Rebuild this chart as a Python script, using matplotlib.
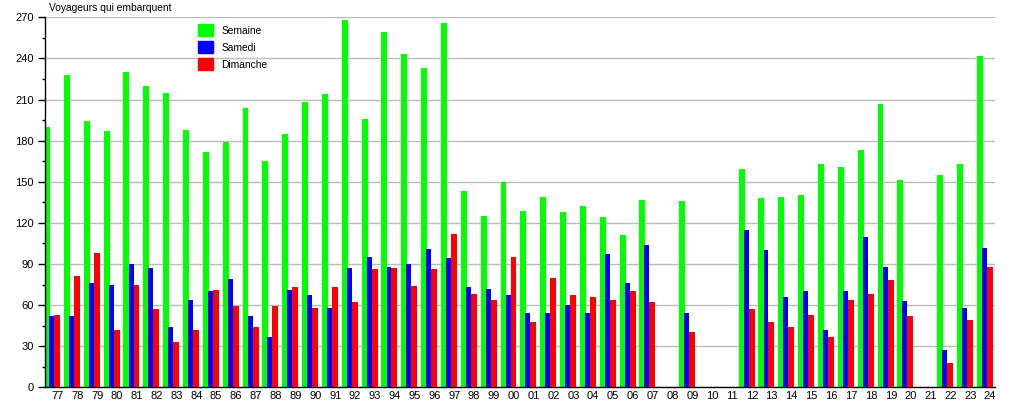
import numpy as np
import matplotlib
matplotlib.use("Agg")
import matplotlib.pyplot as plt
from matplotlib.patches import Patch
from matplotlib.ticker import MultipleLocator

plt.rcParams['font.family'] = ['Liberation Sans', 'DejaVu Sans']

annees = ["77", "78", "79", "80", "81", "82", "83", "84", "85", "86", "87", "88",
          "89", "90", "91", "92", "93", "94", "95", "96", "97", "98", "99", "00",
          "01", "02", "03", "04", "05", "06", "07", "08", "09", "10", "11", "12",
          "13", "14", "15", "16", "17", "18", "19", "20", "21", "22", "23", "24"]

# 0 = pas de donnees
semaine = [190, 228, 194, 187, 230, 220, 215, 188, 172, 179, 204, 165,
           185, 208, 214, 268, 196, 259, 243, 233, 266, 143, 125, 150,
           129, 139, 128, 132, 124, 111, 137, 0, 136, 0, 0, 159,
           138, 139, 140, 163, 161, 173, 207, 151, 0, 155, 163, 242]
samedi = [52, 52, 76, 75, 90, 87, 44, 64, 70, 79, 52, 37,
          71, 67, 58, 87, 95, 88, 90, 101, 94, 73, 72, 67,
          54, 54, 60, 54, 97, 76, 104, 0, 54, 0, 0, 115,
          100, 66, 70, 42, 70, 110, 88, 63, 0, 27, 58, 102]
dimanche = [53, 81, 98, 42, 75, 57, 33, 42, 71, 59, 44, 59,
            73, 58, 73, 62, 86, 87, 74, 86, 112, 68, 64, 95,
            48, 80, 67, 66, 64, 70, 62, 0, 40, 0, 0, 57,
            48, 44, 53, 37, 64, 68, 78, 52, 0, 18, 49, 88]

x = np.arange(len(annees))

fig = plt.figure(figsize=(10.15, 4.0), dpi=100)
ax = fig.add_axes([0.0443, 0.0318, 0.936, 0.925])

ax.bar(x - 0.52, semaine, width=0.30, color='#00ff00', zorder=2)
ax.bar(x - 0.29, samedi, width=0.25, color='#0000ff', zorder=3)
ax.bar(x - 0.015, dimanche, width=0.30, color='#ff0000', zorder=4)

ax.set_xlim(-0.627, 47.25)
ax.set_ylim(0, 270)
ax.set_xticks(x)
ax.set_xticklabels(annees)
ax.yaxis.set_major_locator(MultipleLocator(30))
ax.yaxis.set_minor_locator(MultipleLocator(15))
ax.tick_params(axis='x', length=0, pad=3, labelsize=8)
ax.tick_params(axis='y', which='major', length=5, width=1, pad=3, labelsize=8)
ax.tick_params(axis='y', which='minor', length=2.5, width=1)
ax.grid(axis='y', color='#bbbbbb', linewidth=1, zorder=0)
ax.set_axisbelow(True)

for s in ['top', 'right']:
    ax.spines[s].set_visible(False)
ax.spines['left'].set_linewidth(1)
ax.spines['bottom'].set_linewidth(1)

fig.text(49 / 1015, 1 - 8 / 400, "Voyageurs qui embarquent", fontsize=7.4, va='center', ha='left')

handles = [Patch(color='#00ff00', label='Semaine'),
           Patch(color='#0000ff', label='Samedi'),
           Patch(color='#ff0000', label='Dimanche')]
fig.legend(handles=handles, loc='upper left', bbox_to_anchor=(190 / 1015, 1 - 16 / 400),
           frameon=False, fontsize=7.4, handlelength=1.4, handleheight=1.4,
           handletextpad=0.85, labelspacing=0.5, borderpad=0.3)

fig.savefig("out.png", dpi=100)
